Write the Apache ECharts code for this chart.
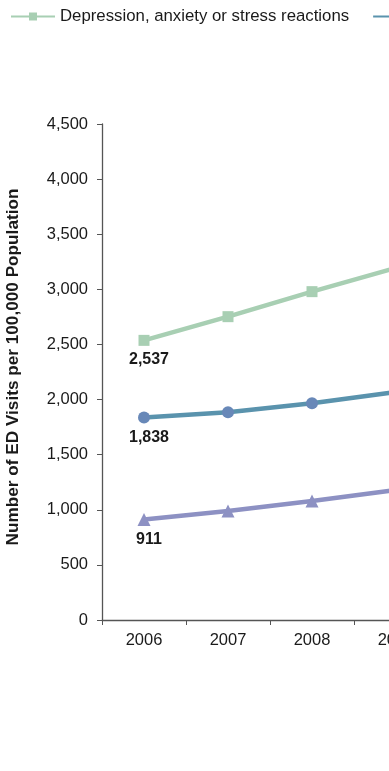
<!DOCTYPE html>
<html><head><meta charset="utf-8">
<script src="https://cdn.jsdelivr.net/npm/echarts@6/dist/echarts.min.js"></script>
<style>html,body{margin:0;padding:0;overflow:hidden;background:#fff;width:389px;height:771px}#c{width:1300px;height:771px}</style>
</head><body><div id="c"></div>
<script>
const years = ['2006', '2007', '2008', '2009'];
const seriesNames = ['Depression, anxiety or stress reactions', 'Alcohol-related disorders', 'Substance-related disorders'];
const depression = [2537, 2752, 2979, 3195];
const alcohol = [1838, 1885, 1966, 2068];
const substance = [911, 989, 1080, 1180];
const yTicks = [0, 500, 1000, 1500, 2000, 2500, 3000, 3500, 4000, 4500];

const fmt = v => String(v).replace(/\B(?=(\d{3})+(?!\d))/g, ',');
const colors = ['#a8cfb3', '#5a93ad', '#8d91c3'];
const markerColors = ['#a8cfb3', '#6888b8', '#8d91c3'];
const symbols = ['rect', 'circle', 'triangle'];
const sizes = [11, 12, 13];
const allData = [depression, alcohol, substance];
const ff = 'Liberation Sans, Arial, sans-serif';

const chart = echarts.init(document.getElementById('c'), null, {renderer: 'canvas'});
chart.setOption({
  animation: false,
  textStyle: {fontFamily: ff},
  legend: {
    left: 5, top: 3, itemWidth: 44, itemHeight: 10, itemGap: 23,
    textStyle: {fontSize: 16.8, color: '#1a1a1a', fontFamily: ff},
    data: seriesNames
  },
  grid: {left: 102, top: 124, width: 336, height: 496, containLabel: false},
  xAxis: {
    type: 'category', data: years, boundaryGap: true,
    axisLine: {lineStyle: {color: '#555', width: 1.3}},
    axisTick: {show: true, length: 5, inside: false, lineStyle: {color: '#555'}},
    axisLabel: {fontSize: 16.5, color: '#1a1a1a', margin: 12}
  },
  yAxis: {
    type: 'value', min: 0, max: 4500, interval: 500,
    name: 'Number of ED Visits per 100,000 Population',
    nameLocation: 'middle', nameGap: 80,
    nameTextStyle: {fontSize: 17.2, fontWeight: 'bold', color: '#1a1a1a', fontFamily: ff, padding: [0, 0, 0, 10]},
    axisLine: {show: true, lineStyle: {color: '#555', width: 1.3}},
    axisTick: {show: true, length: 5, lineStyle: {color: '#555'}},
    splitLine: {show: false},
    axisLabel: {fontSize: 16.5, color: '#1a1a1a', margin: 14, formatter: v => fmt(v)}
  },
  series: seriesNames.map((name, k) => ({
    name, type: 'line', symbol: symbols[k], symbolSize: sizes[k],
    lineStyle: {color: colors[k], width: 4.5},
    itemStyle: {color: markerColors[k]},
    data: allData[k].map((v, i) => i === 0 ? {value: v, label: {
      show: true, position: 'bottom', distance: 6, offset: [5, 0],
      fontSize: 16, fontWeight: 'bold', color: '#1a1a1a', fontFamily: ff, formatter: p => fmt(p.value)
    }} : v),
    z: 3 - k
  }))
});
</script></body></html>
